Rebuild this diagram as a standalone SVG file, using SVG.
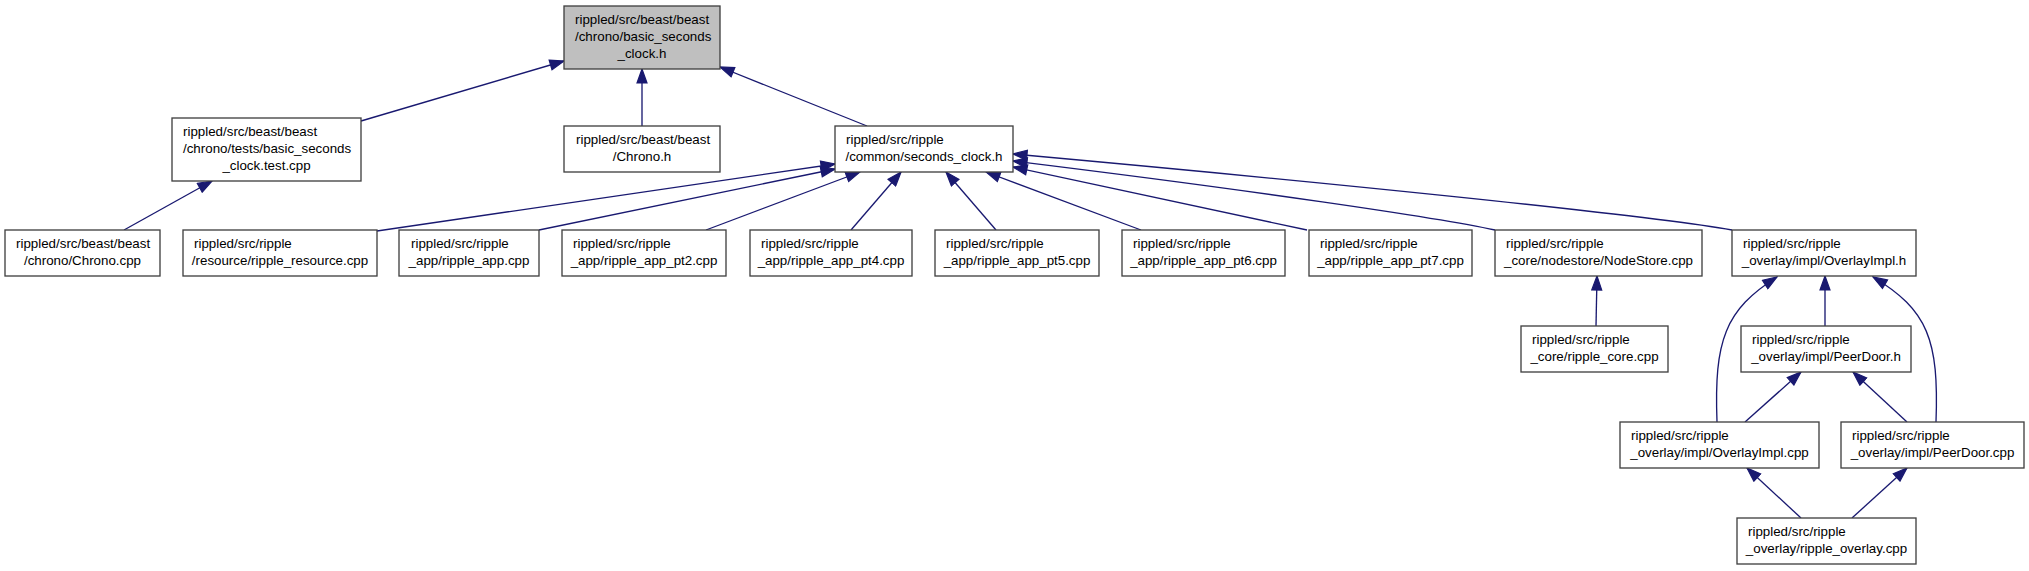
<svg xmlns="http://www.w3.org/2000/svg" width="2029" height="571" viewBox="0 0 2029 571">
<style>
.n rect{fill:#ffffff;stroke:#404040;stroke-width:1.33}
.n.root rect{fill:#bfbfbf}
.n text{font-family:"Liberation Sans",Arial,Helvetica,sans-serif;font-size:13.33px;fill:#000}
.n text.c{text-anchor:middle}
.e path{fill:none;stroke:#191970;stroke-width:1.33;marker-end:url(#ah)}
</style>
<defs>
<marker id="ah" markerUnits="userSpaceOnUse" markerWidth="16" markerHeight="12" refX="14" refY="5" orient="auto" viewBox="-1 -1 16 12">
<path d="M0,0 L14,5 L0,10 Z" fill="#191970" stroke="#191970" stroke-width="1.2"/>
</marker>
</defs>
<rect width="2029" height="571" fill="#fff"/>
<g id="edges" class="e">
<path d="M361,121 L564,61"/>
<path d="M642,126 L642,69"/>
<path d="M867,126 L720,67"/>
<path d="M124,230 L212,181"/>
<path d="M377,231 L835,164"/>
<path d="M539,230 L835,169"/>
<path d="M706,230 L860,172"/>
<path d="M851,230 L901,172"/>
<path d="M996,230 L946,172"/>
<path d="M1141,230 L986,172"/>
<path d="M1307,230 L1013,167"/>
<path d="M1495,230 C1440,218 1250,190 1013,161"/>
<path d="M1732,230 C1650,215 1300,180 1013,154"/>
<path d="M1596,326 L1597,276"/>
<path d="M1825,326 L1825,276"/>
<path d="M1717,422 C1714,340 1725,310 1777,277"/>
<path d="M1936,422 C1939,340 1928,310 1873,277"/>
<path d="M1745,422 L1801,372"/>
<path d="M1907,422 L1853,372"/>
<path d="M1801,518 L1747,468"/>
<path d="M1852,518 L1907,468"/>
</g>
<g id="n_root" class="n root">
<rect x="564" y="6" width="156" height="63"/>
<text x="575" y="24">rippled/src/beast/beast</text>
<text x="575" y="41">/chrono/basic_seconds</text>
<text class="c" x="642" y="58">_clock.h</text>
</g>
<g id="n_test" class="n">
<rect x="172" y="118" width="189" height="63"/>
<text x="183" y="136">rippled/src/beast/beast</text>
<text x="183" y="153">/chrono/tests/basic_seconds</text>
<text class="c" x="266.5" y="170">_clock.test.cpp</text>
</g>
<g id="n_chrono_h" class="n">
<rect x="564" y="126" width="156" height="46"/>
<text x="576" y="144">rippled/src/beast/beast</text>
<text class="c" x="642" y="161">/Chrono.h</text>
</g>
<g id="n_seconds_clock" class="n">
<rect x="835" y="126" width="178" height="46"/>
<text x="846" y="144">rippled/src/ripple</text>
<text class="c" x="924" y="161">/common/seconds_clock.h</text>
</g>
<g id="n_chrono_cpp" class="n">
<rect x="5" y="230" width="155" height="46"/>
<text x="16" y="248">rippled/src/beast/beast</text>
<text class="c" x="82.5" y="265">/chrono/Chrono.cpp</text>
</g>
<g id="n_resource" class="n">
<rect x="183" y="230" width="194" height="46"/>
<text x="194" y="248">rippled/src/ripple</text>
<text class="c" x="280" y="265">/resource/ripple_resource.cpp</text>
</g>
<g id="n_app" class="n">
<rect x="399" y="230" width="140" height="46"/>
<text x="411" y="248">rippled/src/ripple</text>
<text class="c" x="469" y="265">_app/ripple_app.cpp</text>
</g>
<g id="n_pt2" class="n">
<rect x="562" y="230" width="164" height="46"/>
<text x="573" y="248">rippled/src/ripple</text>
<text class="c" x="644" y="265">_app/ripple_app_pt2.cpp</text>
</g>
<g id="n_pt4" class="n">
<rect x="750" y="230" width="162" height="46"/>
<text x="761" y="248">rippled/src/ripple</text>
<text class="c" x="831" y="265">_app/ripple_app_pt4.cpp</text>
</g>
<g id="n_pt5" class="n">
<rect x="935" y="230" width="164" height="46"/>
<text x="946" y="248">rippled/src/ripple</text>
<text class="c" x="1017" y="265">_app/ripple_app_pt5.cpp</text>
</g>
<g id="n_pt6" class="n">
<rect x="1122" y="230" width="163" height="46"/>
<text x="1133" y="248">rippled/src/ripple</text>
<text class="c" x="1203.5" y="265">_app/ripple_app_pt6.cpp</text>
</g>
<g id="n_pt7" class="n">
<rect x="1309" y="230" width="163" height="46"/>
<text x="1320" y="248">rippled/src/ripple</text>
<text class="c" x="1390.5" y="265">_app/ripple_app_pt7.cpp</text>
</g>
<g id="n_nodestore" class="n">
<rect x="1495" y="230" width="207" height="46"/>
<text x="1506" y="248">rippled/src/ripple</text>
<text class="c" x="1598.5" y="265">_core/nodestore/NodeStore.cpp</text>
</g>
<g id="n_overlayimpl_h" class="n">
<rect x="1732" y="230" width="184" height="46"/>
<text x="1743" y="248">rippled/src/ripple</text>
<text class="c" x="1824" y="265">_overlay/impl/OverlayImpl.h</text>
</g>
<g id="n_ripple_core" class="n">
<rect x="1521" y="326" width="147" height="46"/>
<text x="1532" y="344">rippled/src/ripple</text>
<text class="c" x="1594.5" y="361">_core/ripple_core.cpp</text>
</g>
<g id="n_peerdoor_h" class="n">
<rect x="1741" y="326" width="170" height="46"/>
<text x="1752" y="344">rippled/src/ripple</text>
<text class="c" x="1826" y="361">_overlay/impl/PeerDoor.h</text>
</g>
<g id="n_overlayimpl_cpp" class="n">
<rect x="1620" y="422" width="199" height="46"/>
<text x="1631" y="440">rippled/src/ripple</text>
<text class="c" x="1719.5" y="457">_overlay/impl/OverlayImpl.cpp</text>
</g>
<g id="n_peerdoor_cpp" class="n">
<rect x="1841" y="422" width="183" height="46"/>
<text x="1852" y="440">rippled/src/ripple</text>
<text class="c" x="1932.5" y="457">_overlay/impl/PeerDoor.cpp</text>
</g>
<g id="n_ripple_overlay" class="n">
<rect x="1737" y="518" width="179" height="46"/>
<text x="1748" y="536">rippled/src/ripple</text>
<text class="c" x="1826.5" y="553">_overlay/ripple_overlay.cpp</text>
</g>
</svg>
